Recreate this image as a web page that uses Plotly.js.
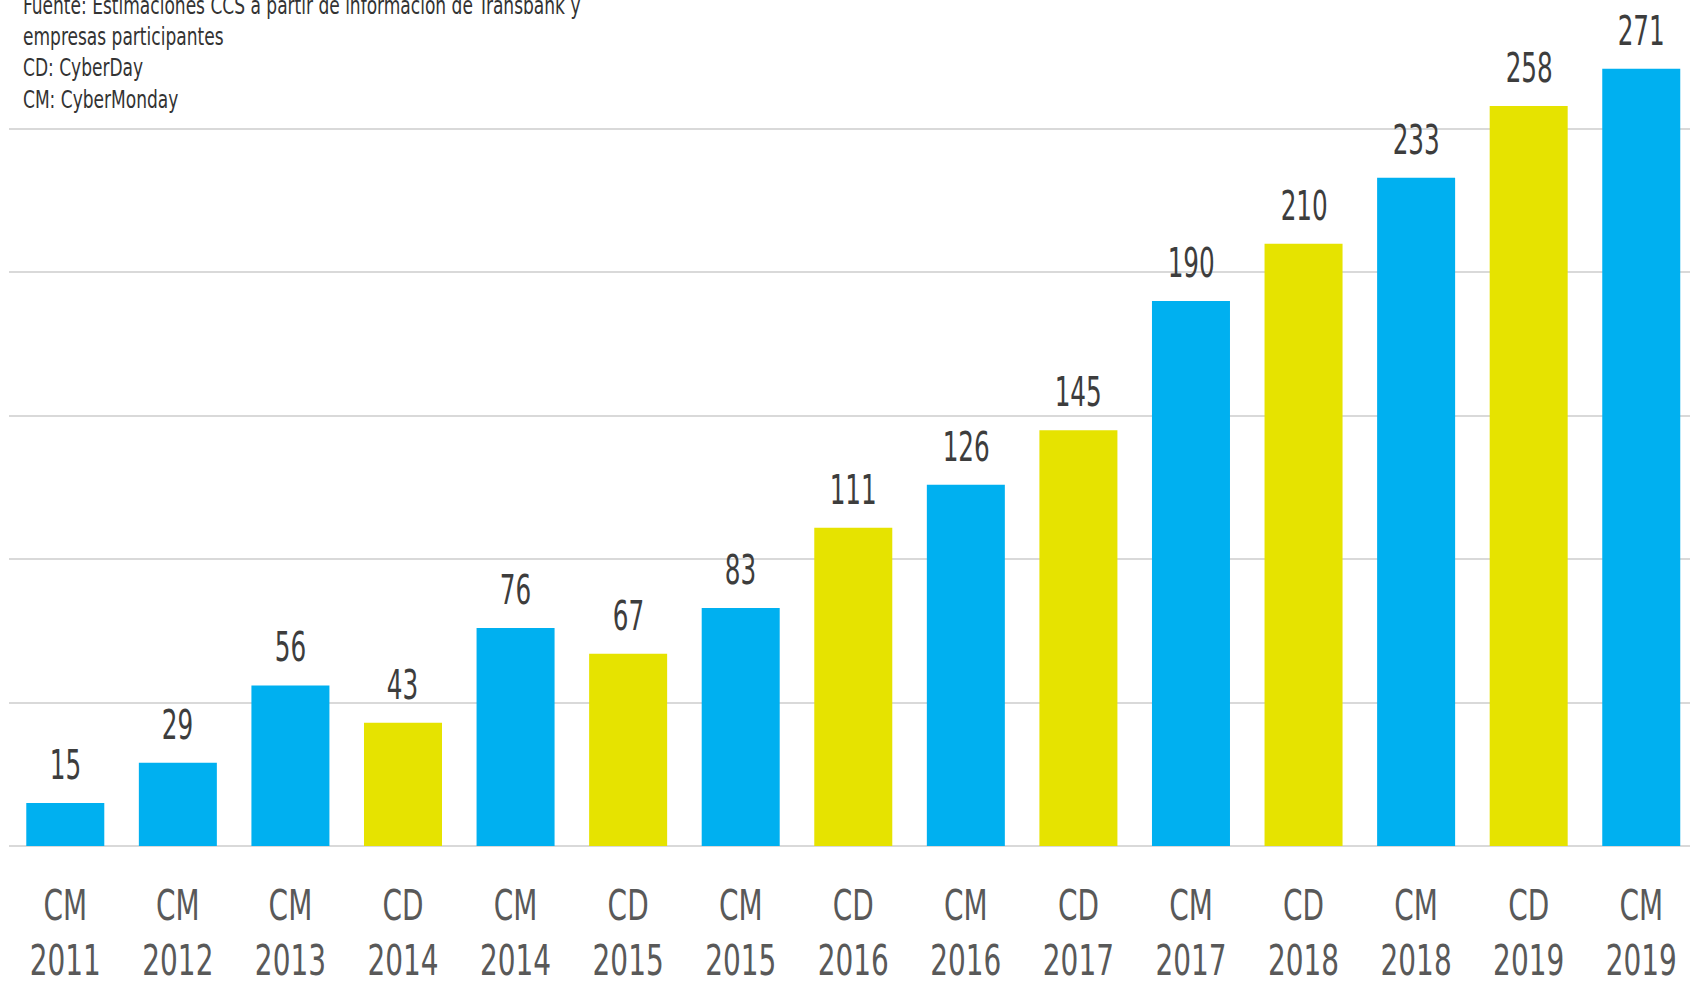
<!DOCTYPE html>
<html>
<head>
<meta charset="utf-8">
<script src="https://cdn.plot.ly/plotly-3.0.1.min.js"></script>
<style>
  html, body { margin: 0; padding: 0; background: #fff; }
  #chart { width: 1690px; height: 983px; }
</style>
</head>
<body>
<div id="chart"></div>
<script>
// CyberDay / CyberMonday sales, by event
const kinds = ['CM', 'CM', 'CM', 'CD', 'CM', 'CD', 'CM', 'CD', 'CM', 'CD', 'CM', 'CD', 'CM', 'CD', 'CM'];
const years = ['2011', '2012', '2013', '2014', '2014', '2015', '2015', '2016', '2016', '2017', '2017', '2018', '2018', '2019', '2019'];
const values = [15, 29, 56, 43, 76, 67, 83, 111, 126, 145, 190, 210, 233, 258, 271];

const noteLines = [
  'Fuente: Estimaciones CCS a partir de información de Transbank y',
  'empresas participantes',
  'CD: CyberDay',
  'CM: CyberMonday',
];

const COLORS = { CM: '#00b0f0', CD: '#e6e300' };
const FONT = 'DejaVu Sans Condensed, Liberation Sans Narrow, sans-serif';
// the original uses a very narrow face; squeeze our condensed one to match
const SQUEEZE = { tick: 0.74, value: 0.67, note: 0.79 };

const cats = kinds.map((k, i) => `${k} ${years[i]}`);
const tickText = kinds.map((k, i) => `${k}<br>${years[i]}`);

const trace = {
  type: 'bar',
  x: cats,
  y: values,
  marker: { color: kinds.map((k) => COLORS[k]) },
  hoverinfo: 'x+y',
};

// value labels above each bar
const labels = values.map((v, i) => ({
  x: cats[i], y: v, xref: 'x', yref: 'y',
  text: String(v), showarrow: false,
  yanchor: 'bottom', yshift: 12,
  font: { family: FONT, size: 41, color: '#3d3d3d' },
}));

const note = {
  xref: 'paper', yref: 'paper', x: 0.007, y: 1.012,
  xanchor: 'left', yanchor: 'top', align: 'left',
  text: noteLines.join('<br>'), showarrow: false,
  font: { family: FONT, size: 24, color: '#333333' },
};

const layout = {
  width: 1690, height: 983,
  margin: { l: 9, r: 0, t: 0, b: 137 },
  paper_bgcolor: '#fff', plot_bgcolor: '#fff',
  bargap: 0.307,
  showlegend: false,
  xaxis: {
    type: 'category',
    range: [-0.5, 14.433],
    tickvals: cats, ticktext: tickText,
    ticks: 'outside', ticklen: 23, tickcolor: 'rgba(0,0,0,0)',
    tickfont: { family: FONT, size: 42, color: '#595959' },
    showgrid: false, zeroline: false,
    showline: false,
  },
  yaxis: {
    range: [0, 295],
    dtick: 50,
    showticklabels: false,
    gridcolor: '#d9d9d9', gridwidth: 2,
    zeroline: true, zerolinecolor: '#d9d9d9', zerolinewidth: 2,
    fixedrange: true,
  },
  annotations: [note, ...labels],
};

function squeeze(el, s, anchorLeft) {
  const bb = el.getBBox();
  const cx = anchorLeft ? bb.x : bb.x + bb.width / 2;
  const prev = el.getAttribute('transform') || '';
  el.setAttribute('transform',
    `${prev} translate(${cx},0) scale(${s},1) translate(${-cx},0)`);
}

Plotly.newPlot('chart', [trace], layout, { displayModeBar: false, staticPlot: true })
  .then((gd) => {
    gd.querySelectorAll('.xtick text').forEach((t) => squeeze(t, SQUEEZE.tick, false));
    gd.querySelectorAll('.annotation-text').forEach((t, i) =>
      squeeze(t, i === 0 ? SQUEEZE.note : SQUEEZE.value, i === 0));
  });
</script>
</body>
</html>
